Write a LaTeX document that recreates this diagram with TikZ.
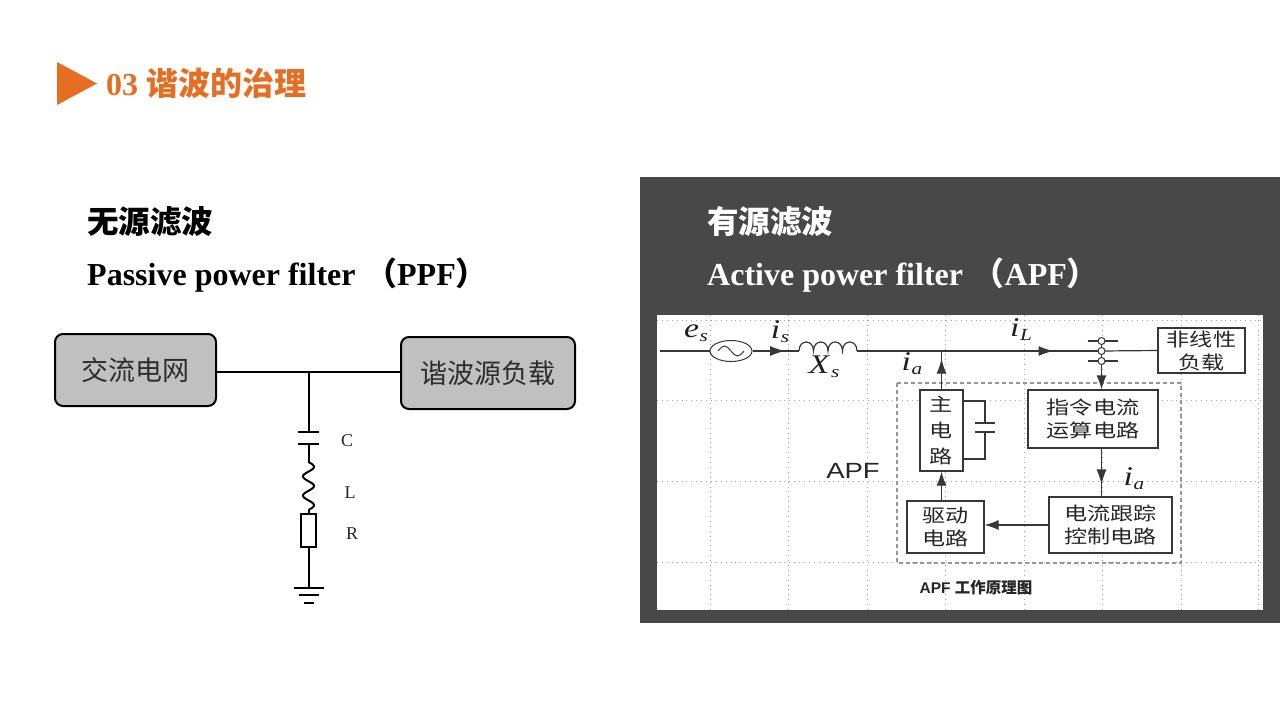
\documentclass[tikz,border=0pt]{standalone}
\usepackage{fontspec}
\setmainfont{Liberation Serif}
\setsansfont{Liberation Sans}
\newfontfamily\cjk{Noto Sans CJK SC}
\newfontfamily\cjkw{Noto Sans CJK SC}[FakeStretch=1.25]
\usetikzlibrary{arrows.meta,decorations.markings,shapes.geometric}
\newcommand\fsz[2]{\fontsize{#1}{#2}\selectfont}
\newcommand\wide[1]{\scalebox{1.25}[1]{#1}}
\newcommand\isub[2]{\wide{\textit{#1}\kern0.5pt\raisebox{-4pt}{\fsz{17}{20}\textit{#2}}}}
\definecolor{accent}{RGB}{230,110,35}
\definecolor{panel}{RGB}{72,72,72}
\definecolor{boxgray}{RGB}{192,192,192}
\definecolor{pptext}{RGB}{45,45,45}
\definecolor{wire}{RGB}{55,55,55}
\definecolor{gridc}{RGB}{165,165,165}
\definecolor{dashc}{RGB}{150,150,150}
\definecolor{mathc}{RGB}{30,30,40}
\tikzset{
  pbox/.style={draw=black, line width=2pt, fill=boxgray, rounded corners=8pt, font=\cjk\fsz{27}{32}, text=pptext, inner sep=0pt},
  ablk/.style={draw=wire, line width=1.2pt, fill=white, align=center, font=\cjkw\fsz{18.5}{23}, text=black!85, inner sep=0pt},
  wireln/.style={draw=wire, line width=1.2pt},
  ppwire/.style={draw=black, line width=2pt},
  endtip/.style={-{Latex[length=14pt,width=10pt]}},
  midarr/.style={postaction={decorate}, decoration={markings, mark=at position #1 with {\arrow{Latex[length=15pt,width=10pt]}}}},
  lbl/.style={inner sep=0pt, font=\fsz{27}{30}, text=mathc},
  griddot/.style={draw=gridc, line width=0.9pt, dash pattern=on 0.9pt off 4pt},
  plbl/.style={inner sep=0pt, font=\fsz{18}{22}, text=black!85}
}
\begin{document}
\begin{tikzpicture}[x=1pt,y=-1pt]
\useasboundingbox (0,0) rectangle (1280,720);
\fill[white] (0,0) rectangle (1280,720);

% title
\fill[accent] (57,62) -- (97,83.5) -- (57,105) -- cycle;
\node[anchor=base west, inner sep=0pt, text=accent] (title) at (106,95) {\fsz{32}{36}\bfseries 03 {\cjk\bfseries 谐波的治理}};

% left headings
\node[anchor=base west, inner sep=0pt] (ppfcn) at (87,233) {\fsz{31.5}{36}\cjk\bfseries 无源滤波};
\node[anchor=base west, inner sep=0pt] (ppfen) at (87,285) {\fsz{32}{36}\bfseries Passive power filter\hspace{0.3em}{\cjk （}PPF{\cjk ）}};

% right panel
\fill[panel] (640,177) rectangle (1280,623);
\node[anchor=base west, inner sep=0pt, text=white] (apfcn) at (707,233) {\fsz{31.5}{36}\cjk\bfseries 有源滤波};
\node[anchor=base west, inner sep=0pt, text=white] (apfen) at (707,285) {\fsz{32}{36}\bfseries Active power filter\hspace{0.3em}{\cjk （}APF{\cjk ）}};
\fill[white] (657,315) rectangle (1263,610);

% grid of the picture
\foreach \gx in {710,788.5,867,945.5,1024,1102.5,1181,1258.5} \draw[griddot] (\gx,315) -- (\gx,610);
\foreach \gy in {320,400,481,562} \draw[griddot] (657,\gy) -- (1263,\gy);

% APF dashed frame
\draw[dashc, line width=1.2pt, dash pattern=on 4pt off 3pt] (897,383) rectangle (1181,563);

% ---------- PPF circuit ----------
\node[pbox, minimum width=161, minimum height=72] (grid) at (135.5,370) {交流电网};
\node[pbox, minimum width=174, minimum height=72] (hload) at (488,373) {谐波源负载};
\coordinate (jn) at (308.5,372);
\draw[ppwire] (grid.east |- jn) -- (hload.west |- jn);
\coordinate (ctop) at (308.5,432);
\coordinate (cbot) at (308.5,444);
\coordinate (ltop) at (308.5,462);
\coordinate (lbot) at (308.5,510);
\draw[ppwire] (jn) -- (ctop);
\draw[black, line width=2.5pt] ([xshift=-10.5pt]ctop) -- ([xshift=10.5pt]ctop);
\draw[black, line width=2.5pt] ([xshift=-10.5pt]cbot) -- ([xshift=10.5pt]cbot);
\draw[ppwire] (cbot) -- (ltop);
\draw[ppwire] plot[domain=0:1, samples=80, smooth] ({308.5+5.5*sin(900*\x)}, {462+48*\x});
\node[draw=black, line width=2pt, fill=white, minimum width=15, minimum height=33, inner sep=0pt] (res) at (308.5,530.5) {};
\draw[ppwire] (lbot) -- (res.north);
\coordinate (gnd) at (308.5,588);
\draw[ppwire] (res.south) -- (gnd);
\draw[ppwire] ([xshift=-15pt]gnd) -- ([xshift=15pt]gnd);
\draw[ppwire] ([xshift=-10pt,yshift=-7pt]gnd) -- ([xshift=10pt,yshift=-7pt]gnd);
\draw[ppwire] ([xshift=-5pt,yshift=-15pt]gnd) -- ([xshift=5pt,yshift=-15pt]gnd);
\node[plbl] (lc) at (347,441) {C};
\node[plbl] (ll) at (350,493) {L};
\node[plbl] (lr) at (352,534) {R};

% ---------- APF circuit ----------
\coordinate (l0) at (660,351);
\node[draw=wire, line width=1pt, ellipse, minimum width=42, minimum height=21, inner sep=0pt] (src) at (731,351) {};
\draw[wire, line width=1pt] ([xshift=-13pt]src.center) sin ++(6.5,-5) cos ++(6.5,5) sin ++(6.5,5) cos ++(6.5,-5);
\coordinate (xs1) at (799,351);
\coordinate (xs2) at (857,351);
\coordinate (ja) at (941.5,351);
\coordinate (ct) at (1101.5,351);
\node[ablk, minimum width=87, minimum height=45] (nload) at (1201.5,350.5) {非线性\\负载};
\draw[wireln] (l0) -- (src.west);
\draw[wireln, midarr=0.7] (src.east) -- (xs1);
\draw[wireln] (xs1) .. controls (799,339) and (813.5,339) .. (813.5,351)
                    .. controls (813.5,339) and (828,339) .. (828,351)
                    .. controls (828,339) and (842.5,339) .. (842.5,351)
                    .. controls (842.5,339) and (857,339) .. (xs2);
\draw[wireln] (xs2) -- (ja);
\draw[wireln, midarr=0.7] (ja) -- (ct);
\draw[wireln] (ct) -- (nload.west);
% current transformer
\coordinate (ctt) at (1101.5,341);
\coordinate (ctb) at (1101.5,361);
\draw[wireln] (ctt) -- (ctb);
\draw[wireln] ([xshift=-14pt]ctt) -- ([xshift=16pt]ctt);
\draw[wireln] ([xshift=-14pt]ctb) -- ([xshift=16pt]ctb);
\node[draw=wire, line width=1pt, fill=white, circle, minimum size=7, inner sep=0pt] (ct1) at (ctt) {};
\node[draw=wire, line width=1pt, fill=white, circle, minimum size=7, inner sep=0pt] (ct2) at (ct) {};
\node[draw=wire, line width=1pt, fill=white, circle, minimum size=7, inner sep=0pt] (ct3) at (ctb) {};

% blocks
\node[ablk, minimum width=43, minimum height=81] (mainc) at (941.5,430.5) {主\\[3pt]电\\[3pt]路};
\node[ablk, minimum width=130, minimum height=58] (cmd) at (1093,419) {指令电流\\运算电路};
\node[ablk, minimum width=123, minimum height=56] (track) at (1110.5,525) {电流跟踪\\控制电路};
\node[ablk, minimum width=77, minimum height=52] (drive) at (945.5,527) {驱动\\电路};

% DC capacitor of the main circuit
\coordinate (dc1) at (985,401);
\coordinate (dc2) at (985,459);
\coordinate (dcp1) at (985,423);
\coordinate (dcp2) at (985,432);
\draw[wireln] (mainc.east |- dc1) -- (dc1) -- (dcp1);
\draw[wireln] (dcp2) -- (dc2) -- (mainc.east |- dc2);
\draw[wireln] ([xshift=-10pt]dcp1) -- ([xshift=10pt]dcp1);
\draw[wireln] ([xshift=-10pt]dcp2) -- ([xshift=10pt]dcp2);

% connections
\draw[wireln, midarr=0.8] (mainc.north) -- (ja);
\draw[wireln, endtip] (ct3.south) -- (ct3.south |- cmd.north);
\draw[wireln, midarr=0.75] (cmd.south -| ct) -- (track.north -| ct);
\draw[wireln, endtip] (track.west) -- (track.west -| drive.east);
\draw[wireln, endtip] (mainc.south |- drive.north) -- (mainc.south);

% labels
\node[lbl] (les) at (696,333) {\isub{e}{s}};
\node[lbl] (lis) at (780,332) {\isub{i}{s}};
\node[lbl] (lxs) at (824,367) {\isub{X}{s}};
\node[lbl] (lia) at (912,364) {\isub{i}{a}};
\node[lbl] (lil) at (1021,330) {\isub{i}{L}};
\node[lbl] (lia2) at (1134,479) {\isub{i}{a}};
\node[inner sep=0pt, font=\sffamily\fsz{22}{26}, text=black!85] (apfl) at (853,471) {\wide{APF}};
\node[inner sep=0pt, text=black!85] (cap) at (976,588) {\fsz{15.5}{18}\bfseries\sffamily APF {\cjk\bfseries 工作原理图}};
\end{tikzpicture}
\end{document}
